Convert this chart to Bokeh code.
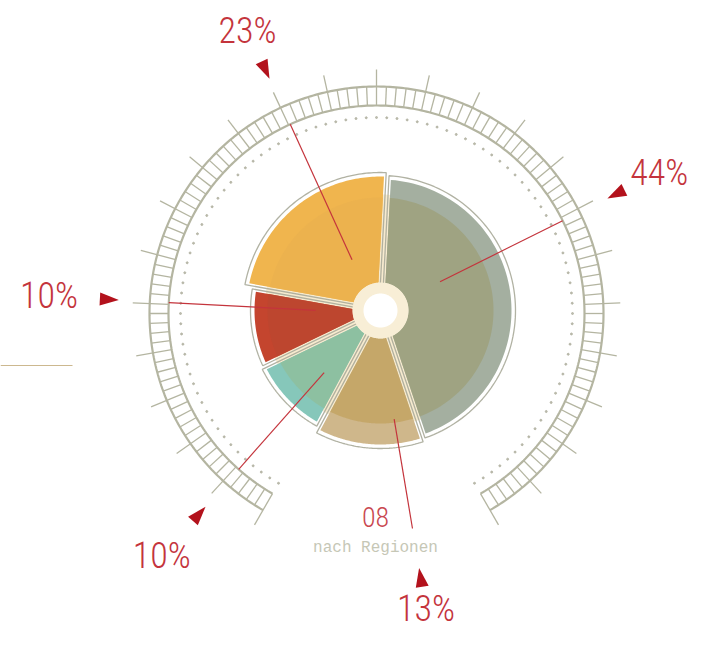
import numpy as np
from bokeh.plotting import figure
from bokeh.models import Range1d, ColumnDataSource
from bokeh.embed import file_html
from bokeh.resources import INLINE
from bokeh.core.properties import value

# ---------------- data ----------------
regions = ["Region 1", "Region 2", "Region 3", "Region 4", "Region 5"]
shares = [44, 13, 10, 10, 23]            # percent, clockwise from top
share_labels = ["44%", "13%", "10%", "10%", "23%"]
chart_number = "08"
chart_title = "nach Regionen"

# ---------------- style / layout ----------------
outer_fill = ["#a4afa0", "#cfb78b", "#86c7ba", "#c4452e", "#f0b54e"]
inner_fill = ["#9ea27e", "#c3a565", "#8ebf9f", "#bd4630", "#ebb14f"]
slice_r = [131, 134, 128, 126, 134]
callout_deg = [63.5, 170.5, 221.5, 273.0, 335.5]
leader_r0 = [71, 107, 79, 61, 59]
leader_r1 = [208, 218, 208, 208, 208]
label_r = [316, 300, 324, 328, 311]

G = (376.0, 313.0)   # gauge centre (px)
P = (380.0, 310.0)   # pie centre (px)
RED = "#c4343c"
GAUGE = "#b4b5a1"
LABEL_FONT = "'Roboto Condensed Light', 'Roboto Condensed', 'Lato Light', 'Liberation Mono'"


def polar(c, r, deg):
    t = np.radians(deg)
    return c[0] + r * np.sin(t), c[1] - r * np.cos(t)


def sector(c, r0, r1, a0, a1, d=0.0, n=80):
    d0 = np.degrees(np.arcsin(min(d / r0, 0.9)))
    d1 = np.degrees(np.arcsin(min(d / r1, 0.9)))
    ao = np.linspace(a0 + d1, a1 - d1, n)
    ai = np.linspace(a1 - d0, a0 + d0, n)
    xo, yo = polar(c, r1, ao)
    xi, yi = polar(c, r0, ai)
    return list(np.concatenate([xo, xi])), list(np.concatenate([yo, yi]))


p = figure(width=696, height=629, x_range=Range1d(0, 696), y_range=Range1d(629, 0),
           output_backend="svg", toolbar_location=None, min_border=0)
p.axis.visible = False
p.grid.visible = False
p.outline_line_color = None
p.background_fill_color = "white"

# ---------------- gauge ring ----------------
r_in, r_out = 208.0, 227.0
arc = np.linspace(-150, 150, 400)
xs, ys = [], []
for r in (r_in, r_out):
    x, y = polar(G, r, arc)
    xs.append(list(x)); ys.append(list(y))
p.multi_line(xs, ys, line_color=GAUGE, line_width=2.2)

minor = np.arange(-150, 150.001, 2.5)
mx, my = [], []
for a in minor:
    major = abs(round(a / 12.5) * 12.5 - a) < 1e-6
    rr = r_out + 17 if major else r_out
    x0, y0 = polar(G, r_in, a)
    x1, y1 = polar(G, rr, a)
    mx.append([x0, x1]); my.append([y0, y1])
p.multi_line(mx, my, line_color=GAUGE, line_width=1.3)

# dotted circle
dots = np.arange(-150, 150.5, 3.0)
dx, dy = polar(G, 196, dots)
p.scatter(dx, dy, size=2.0, color="#b0b0a0", alpha=0.85)

# ---------------- pie ----------------
circ = np.linspace(0, 360, 200)
bx, by = polar(P, 116, circ)
p.patch(list(bx), list(by), fill_color="#f7ebcf", line_color=None)

bounds = np.cumsum([0] + shares) * 3.6 + 3.0
for i in range(len(shares)):
    a0, a1 = bounds[i], bounds[i + 1]
    ox, oy = sector(P, 24, slice_r[i] + 4, a0, a1, d=1.5)
    p.patch(ox, oy, fill_color=None, line_color="#a9aa99", line_width=1.3, line_alpha=0.9)
    sx, sy = sector(P, 28, slice_r[i], a0, a1, d=3.5)
    p.patch(sx, sy, fill_color=outer_fill[i], line_color=None)
    ix, iy = sector(P, 28, min(113, slice_r[i] - 10), a0, a1, d=3.5)
    p.patch(ix, iy, fill_color=inner_fill[i], line_color=None, fill_alpha=0.9)

hx, hy = polar(P, 28, circ)
p.patch(list(hx), list(hy), fill_color="#f8eed6", line_color=None)
hx, hy = polar(P, 17, circ)
p.patch(list(hx), list(hy), fill_color="white", line_color=None)

# ---------------- callouts ----------------
lx, ly = [], []
tx, ty = [], []
labx, laby = [], []
for i, a in enumerate(callout_deg):
    x0, y0 = polar(G, leader_r0[i], a)
    x1, y1 = polar(G, leader_r1[i], a)
    lx.append([x0, x1]); ly.append([y0, y1])
    t = np.radians(a)
    ux, uy = np.sin(t), -np.cos(t)
    vx, vy = np.cos(t), np.sin(t)
    tipx, tipy = G[0] + 258 * ux, G[1] + 258 * uy
    bcx, bcy = G[0] + 277 * ux, G[1] + 277 * uy
    tx.append([tipx, bcx + 6.5 * vx, bcx - 6.5 * vx])
    ty.append([tipy, bcy + 6.5 * vy, bcy - 6.5 * vy])
    lpx, lpy = polar(G, label_r[i], a)
    labx.append(lpx); laby.append(lpy)

p.multi_line(lx, ly, line_color=RED, line_width=1.2)
p.patches(tx, ty, fill_color="#b3121c", line_color=None)

src = ColumnDataSource(dict(x=labx, y=laby, t=share_labels, region=regions))
p.text("x", "y", text="t", source=src, text_align="center", text_baseline="middle",
       text_font=value(LABEL_FONT), text_font_size="36px", text_color=RED)

p.text([375], [516], text=[chart_number], text_align="center", text_baseline="middle",
       text_font=value(LABEL_FONT), text_font_size="28px", text_color="#c9474f")
p.text([375], [547], text=[chart_title], text_align="center", text_baseline="middle",
       text_font=value("Liberation Mono"), text_font_size="16px", text_color="#c6c7b6")

# small rule on the left
p.line([0, 72], [365, 365], line_color="#ccb88f", line_width=1.2)

open("out.html", "w").write(file_html(p, INLINE))
